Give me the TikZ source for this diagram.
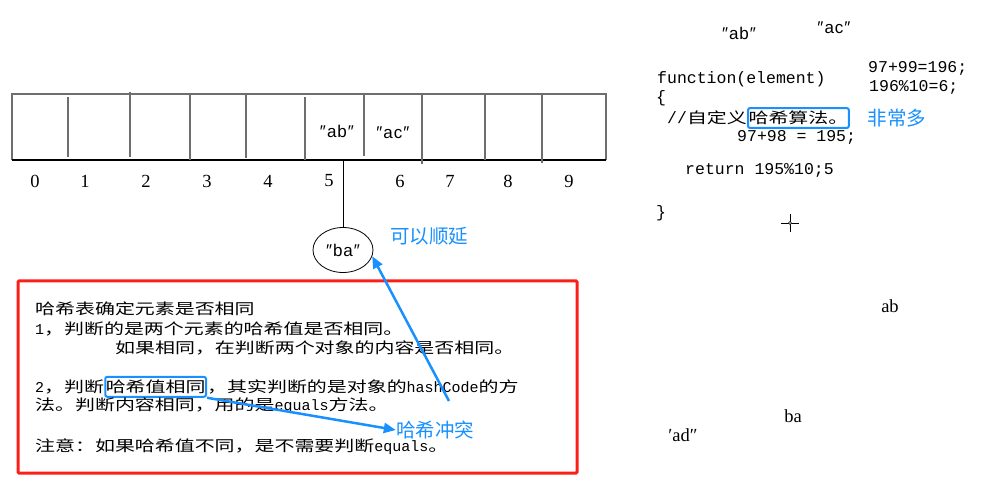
\documentclass[tikz,border=0pt]{standalone}
\usepackage{fontspec}
\setmainfont{Liberation Serif}
\newfontfamily\cjkfont[FakeStretch=1.33]{Noto Sans CJK SC}
\newfontfamily\notefont{Noto Sans CJK SC}
\newfontfamily\codefont{Liberation Mono}
\newfontfamily\quotefont[LetterSpace=6]{Liberation Sans}
\usetikzlibrary{arrows.meta, positioning, shapes.geometric}

\definecolor{noteblue}{RGB}{24,144,255}
\definecolor{boxred}{RGB}{250,32,24}
\definecolor{slotgray}{RGB}{110,110,110}

\begin{document}
\begin{tikzpicture}[%
        x = 1pt, y = -1pt,
        > = {Triangle[length=12pt, width=10pt]},
        cjk/.style = {inner sep=0pt, font=\cjkfont\fontsize{15}{18}\selectfont},
        code/.style = {inner sep=0pt, font=\codefont\fontsize{16.5}{20}\selectfont},
        quoted/.style = {inner sep=0pt, font=\quotefont\fontsize{17}{20}\selectfont},
        index/.style = {inner sep=0pt, font=\fontsize{18.5}{22}\selectfont},
        note/.style = {inner sep=0pt, text=noteblue, font=\notefont\fontsize{19.5}{22}\selectfont},
        hashbox/.style = {draw=noteblue, line width=2pt, rounded corners=2pt,
                          inner xsep=0.5pt, inner ysep=3pt},
        callout/.style = {->, draw=noteblue, line width=2.5pt},
        slotline/.style = {draw=slotgray, line width=1.4pt}
    ]

        \useasboundingbox (0,0) rectangle (997,489);

        % The array of ten slots.
        \draw[slotline] (12,160) -- (12,94) -- (606,94) -- (606,160);
        \draw[black, line width=1.5pt] (12,160) -- (606,160);
        \foreach \x/\a/\b in {68/97/157, 130/92/157, 190/94/160, 246/94/158,
                305/97/160, 364/94/156, 422/94/164, 485/94/160, 542/94/163}
            \draw[slotline] (\x,\a) -- (\x,\b);

        % Slot indices.
        \foreach \x/\n in {35/0, 85/1, 146/2, 207/3, 268/4,
                329/5, 400/6, 450/7, 508/8, 569/9}
            \node[index] (idx\n) at (\x,181) {\n};

        % Contents of the slots.
        \node[quoted] (ab) at (337,131) {″ab″};
        \node[quoted] (ac) at (393,133) {″ac″};

        % Chained element below slot 5.
        \coordinate (slot5) at (343,160);
        \node[draw, ellipse, line width=0.8pt, minimum width=60pt,
              minimum height=45pt, quoted] (ba) at (343,250) {″ba″};
        \draw[line width=0.8pt] (slot5) -- (ba);
        \node[note] (chain) at (429,236) {可以顺延};

        % Red frame with the notes.
        \draw[boxred, line width=3pt, rounded corners=1pt] (18,281) rectangle (577,473);
        \node[cjk, anchor=west] (l1) at (35,309) {哈希表确定元素是否相同};
        \node[cjk, anchor=west] (l2) at (35,329) {{\codefont 1}，判断的是两个元素的哈希值是否相同。};
        \node[cjk, anchor=west] (l3) at (115,348) {如果相同，在判断两个对象的内容是否相同。};
        \node[cjk, anchor=west] (l4) at (35,387) {{\codefont 2}，判断};
        \node[cjk, hashbox, base right=0pt of l4] (hv) {哈希值相同};
        \node[cjk, base right=0pt of hv] (l4b) {，其实判断的是对象的{\codefont hashCode}的方};
        \node[cjk, anchor=west] (l5) at (35,406) {法。判断内容相同，用的是{\codefont equals}方法。};
        \node[cjk, anchor=west] (l6) at (35,447) {注意：如果哈希值不同，是不需要判断{\codefont equals}。};
        \node[note] (clash) at (435,430) {哈希冲突};

        % Callout arrows.
        \coordinate (tail) at (449,401);
        \draw[callout] (tail) -- (ba.-12);
        \draw[callout] (hv.south east) -- (clash.west);

        % Hash function sketch on the right.
        \node[quoted] (qab) at (739,33) {″ab″};
        \node[quoted] (qac) at (834,28) {″ac″};
        \node[code, anchor=west] (fn) at (657,79) {function(element)};
        \node[code, anchor=west] (sum1) at (868,68) {97+99=196;};
        \node[code, anchor=west] (mod1) at (869,87) {196\%10=6;};
        \node[code, anchor=west] (open) at (656,98) {\{};
        \node[code, anchor=west] (cm) at (667,118) {//{\cjkfont\fontsize{15}{18}\selectfont 自定义}};
        \node[cjk, hashbox, base right=0pt of cm] (algo) {哈希算法。};
        \node[note] (many) at (897,118) {非常多};
        \node[code, anchor=west] (sum2) at (737,137) {97+98 = 195;};
        \node[code, anchor=west] (ret) at (685,170) {return 195\%10;5};
        \node[code, anchor=west] (close) at (656,213) {\}};

        % Cursor.
        \draw[line width=0.8pt] (781,223) -- (799,223) (790,214) -- (790,232);
        \draw[line width=0.6pt, fill=white] (790,223) circle (1.5);

        % Loose words.
        \node[index] (wab) at (890,306) {ab};
        \node[index] (wba) at (793,416) {ba};
        \node[index] (wad) at (683,435) {′ad″};
    \end{tikzpicture}
\end{document}
